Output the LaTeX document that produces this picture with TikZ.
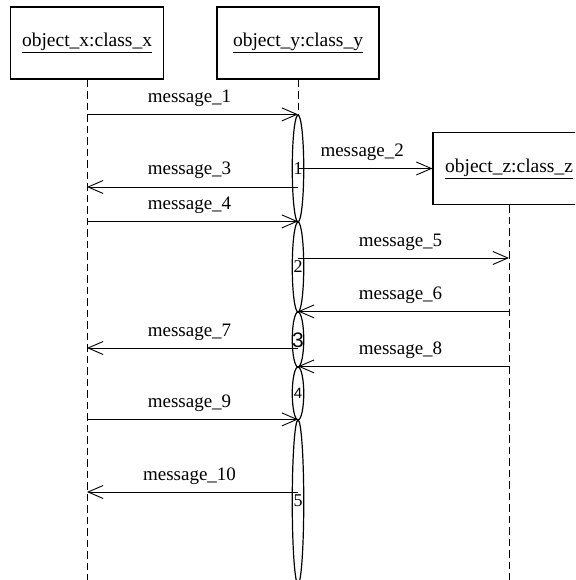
\documentclass[tikz,border=0pt]{standalone}
\usepackage{fontspec}
\setmainfont{Liberation Serif}
\setsansfont{Liberation Sans}
\usetikzlibrary{arrows.meta,shapes.geometric}
\begin{document}
\begin{tikzpicture}[x=1pt,y=-1pt,
  obj/.style={draw,line width=1.2pt,inner sep=0pt,minimum height=72pt,
    font=\fontsize{19.5}{22}\selectfont},
  life/.style={line width=0.9pt,dash pattern=on 7.5pt off 4pt},
  act/.style={draw,ellipse,line width=1.2pt,inner sep=0pt,minimum width=11.5pt},
  msg/.style={line width=0.9pt,-{Straight Barb[length=15pt,width=13pt,line width=0.9pt]}},
  lbl/.style={font=\fontsize{19}{22}\selectfont,anchor=base,inner sep=0pt,
    yshift=12pt,xshift=-3pt},
  num/.style={inner sep=0pt,font=\fontsize{18}{20}\selectfont},
]
\useasboundingbox (0,0) rectangle (575,580);
\clip (0,0) rectangle (575,580);

% objects
\node[obj,minimum width=153pt] (ox) at (87,43) {\underline{object\_x:class\_x}};
\node[obj,minimum width=162pt] (oy) at (298,43) {\underline{object\_y:class\_y}};
\node[obj,minimum width=152pt] (oz) at (509,168.5) {\underline{object\_z:class\_z}};

% activations on object_y
\node[act,minimum height=107pt] (a1) at (298,168.5) {};
\node[act,minimum height=90pt]  (a2) at (298,267) {};
\node[act,minimum height=55pt]  (a3) at (298,339.5) {};
\node[act,minimum height=53pt]  (a4) at (298,393.5) {};
\node[act,minimum height=164pt] (a5) at (298,502) {};

\node[num] (n1) at (298,169) {1};
\node[num] (n2) at (298,267) {2};
\node[num,font=\sffamily\fontsize{21}{22}\selectfont] (n3) at (298,340) {3};
\node[num,font=\sffamily\fontsize{15}{17}\selectfont] (n4) at (298,393) {4};
\node[num] (n5) at (298,501) {5};

% lifelines
\coordinate (xend) at (87,585);
\coordinate (zend) at (509,585);
\draw[life] (ox.south) -- (xend);
\draw[life] (oy.south) -- (a1.north);
\draw[life] (oz.south) -- (zend);

% points where messages leave an activation
\coordinate (s3) at (298,187);
\coordinate (s5) at (298,258);
\coordinate (s7) at (298,348);
\coordinate (s10) at (298,492);

% messages
\draw[msg] (ox.south |- a1.north) -- (a1.north)
  node[lbl,midway] {message\_1};
\draw[msg] (a1.center) -- (oz.west)
  node[lbl,midway] {message\_2};
\draw[msg] (s3) -- (s3 -| ox.south)
  node[lbl,midway] {message\_3};
\draw[msg] (ox.south |- a2.north) -- (a2.north)
  node[lbl,midway] {message\_4};
\draw[msg] (s5) -- (s5 -| oz.south)
  node[lbl,midway] {message\_5};
\draw[msg] (oz.south |- a3.north) -- (a3.north)
  node[lbl,midway] {message\_6};
\draw[msg] (s7) -- (s7 -| ox.south)
  node[lbl,midway] {message\_7};
\draw[msg] (oz.south |- a4.north) -- (a4.north)
  node[lbl,midway] {message\_8};
\draw[msg] (ox.south |- a5.north) -- (a5.north)
  node[lbl,midway] {message\_9};
\draw[msg] (s10) -- (s10 -| ox.south)
  node[lbl,midway] {message\_10};
\end{tikzpicture}
\end{document}
